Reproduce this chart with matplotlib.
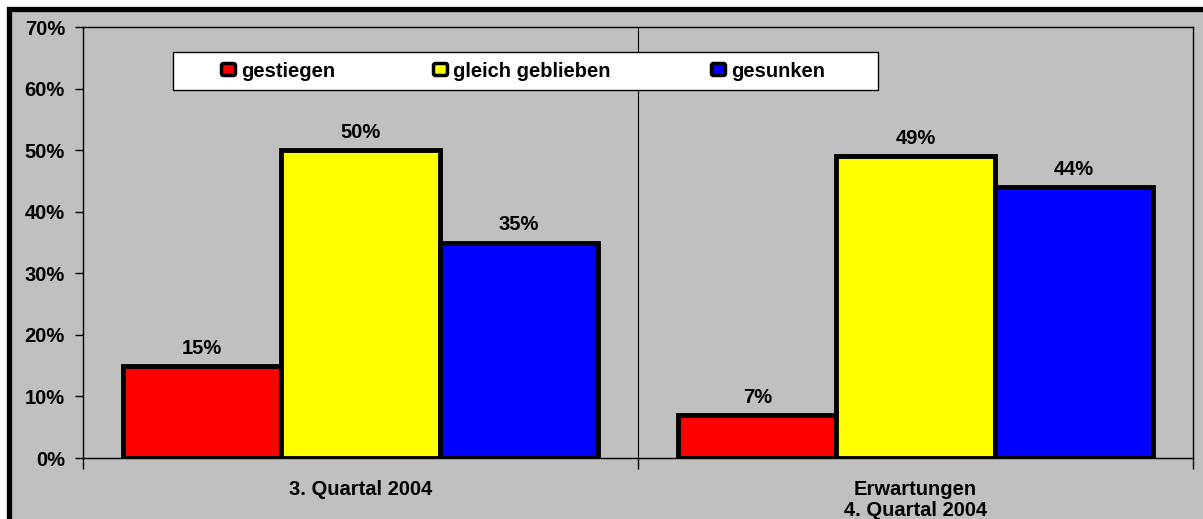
import matplotlib.pyplot as plt
import numpy as np
from matplotlib.patches import Rectangle, FancyBboxPatch
from matplotlib.transforms import Affine2D

categories = ["3. Quartal 2004", "Erwartungen\n4. Quartal 2004"]
series = ["gestiegen", "gleich geblieben", "gesunken"]
values = [[15, 7], [50, 49], [35, 44]]
colors = ["#FF0000", "#FFFF00", "#0000FF"]
gray = "#C0C0C0"

plt.rcParams['font.family'] = ['Liberation Sans', 'DejaVu Sans']
plt.rcParams['font.weight'] = 'bold'

W, H = 1203, 519
fig = plt.figure(figsize=(W / 100, H / 100), dpi=100, facecolor=gray)
# pixel coordinates, origin top left
px = Affine2D().scale(1 / W, -1 / H).translate(0, 1) + fig.transFigure

# white strip and thick black frame (cut off on right and bottom)
fig.patches.append(Rectangle((0, 0), 1, 1, transform=fig.transFigure,
                             facecolor="white", edgecolor="none", zorder=-3))
fig.patches.append(Rectangle((9, 8.5), 1300, 600, transform=px,
                             facecolor=gray, edgecolor="black", linewidth=3.8, zorder=-2))

left, right, top, bottom = 83, 1193, 27, 458
ax = fig.add_axes([left / W, 1 - bottom / H, (right - left) / W, (bottom - top) / H])
ax.set_facecolor(gray)

x = np.arange(len(categories))
bw = 0.285
for i, (name, vals, c) in enumerate(zip(series, values, colors)):
    pos = x + (i - 1) * bw
    ax.bar(pos, vals, width=bw, color=c, edgecolor="black", linewidth=3.5, zorder=3)
    for p, v in zip(pos, vals):
        ax.text(p, v + 1.95, f"{v}%", ha="center", va="baseline", fontsize=14.5,
                fontweight="bold", zorder=4)

ax.set_xlim(-0.5, len(categories) - 0.5)
ax.set_ylim(0, 70)
ax.set_yticks(range(0, 71, 10))
ax.set_yticklabels([f"{t}%" for t in range(0, 71, 10)], fontsize=14.5, fontweight="bold")
ax.set_xticks([-0.5, 0.5, 1.5])
ax.set_xticklabels([])
ax.tick_params(axis="y", length=6, width=1, pad=7)
ax.tick_params(axis="x", length=8, width=1)
ax.axvline(0.5, color="black", linewidth=0.8, zorder=1)
for s in ax.spines.values():
    s.set_linewidth(1)

for xi, cat in zip(x, categories):
    ax.text(xi, -3.55, cat, ha="center", va="top", fontsize=14.5, fontweight="bold",
            linespacing=1.15, clip_on=False)

# legend box drawn in pixel coordinates
fig.patches.append(Rectangle((173, 52), 705, 38, transform=px, facecolor="white",
                             edgecolor="black", linewidth=1, zorder=5))
marker_x = [220, 432, 710]
for mx, name, c in zip(marker_x, series, colors):
    fig.patches.append(FancyBboxPatch((mx + 1.5, 63.5), 14, 12, boxstyle="round,pad=0,rounding_size=2",
                                      transform=px, facecolor=c, edgecolor="black",
                                      linewidth=2.5, zorder=6))
    fig.text(mx + 21, 71.5, name, transform=px, ha="left", va="center", fontsize=14.5,
             fontweight="bold", zorder=7)

fig.savefig("out.png", dpi=100, facecolor=gray)
